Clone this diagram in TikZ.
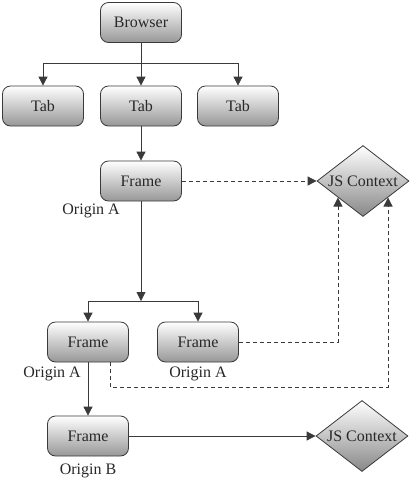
\documentclass[tikz,border=0pt]{standalone}
\usepackage{fontspec}
\setmainfont{Liberation Serif}
\usetikzlibrary{shapes.geometric,arrows.meta,calc}
\definecolor{linec}{HTML}{3A3A3A}
\definecolor{textc}{HTML}{282828}
\definecolor{shadec}{HTML}{979797}
\definecolor{midc}{HTML}{E2E2E2}
\begin{document}
\begin{tikzpicture}[x=1pt,y=-1pt,
  box/.style={draw=linec, line width=0.8pt, rounded corners=8pt, minimum width=81pt, minimum height=40pt,
    inner sep=0pt, top color=white, middle color=midc, bottom color=shadec, text=textc, font=\fontsize{16}{18}\selectfont},
  jsd/.style={diamond, draw=linec, line width=0.8pt, minimum width=92pt, minimum height=71pt, inner sep=0pt,
    top color=white, middle color=midc, bottom color=shadec!90!black, text=textc, font=\fontsize{16}{18}\selectfont},
  lab/.style={text=textc, font=\fontsize{16}{18}\selectfont, inner sep=0pt},
  arr/.style={draw=linec, line width=0.8pt, -{Triangle[length=9pt,width=9pt]}},
  dsh/.style={arr, dash pattern=on 4pt off 3pt}]
\useasboundingbox (0,0) rectangle (413,483);
\node[box] (browser) at (141,22.5) {Browser};
\node[box] (tab1) at (43,106) {Tab};
\node[box] (tab2) at (141,106) {Tab};
\node[box] (tab3) at (238,106) {Tab};
\node[box] (frame1) at (141,181) {Frame};
\node[box] (frame2) at (88,342) {Frame};
\node[box] (frame3) at (198,342) {Frame};
\node[box] (frame4) at (88,436) {Frame};
\node[jsd] (js1) at (363,181) {\makebox[0pt]{JS Context}};
\node[jsd] (js2) at (362,436) {\makebox[0pt]{JS Context}};
\node[lab] (o1) at ($(frame1.south west)+(-9,10)$) {Origin A};
\node[lab] (o2) at ($(frame2.south west)+(5,12)$) {Origin A};
\node[lab] (o3) at ($(frame3.south)+(0,12)$) {Origin A};
\node[lab] (o4) at ($(frame4.south)+(0,15)$) {Origin B};
\coordinate (split1) at (141,63);
\coordinate (split2) at (141,301);
\coordinate (jsA) at ($(js1.west)!0.46!(js1.south)$);
\coordinate (jsB) at ($(js1.south)!0.54!(js1.east)$);
% solid
\draw[arr] (browser.south) -- (tab2.north);
\draw[arr] (split1) -| (tab1.north);
\draw[arr] (split1) -| (tab3.north);
\draw[arr] (tab2.south) -- (frame1.north);
\draw[arr] (frame1.south) -- (split2);
\draw[arr] (split2) -| (frame2.north);
\draw[arr] (split2) -| (frame3.north);
\draw[arr] (frame2.south) -- (frame4.north);
\draw[arr] (frame4.east) -- (js2.west);
% dashed
\draw[dsh] (frame1.east) -- (js1.west);
\draw[dsh] (frame3.east) -| (jsA);
\draw[dsh] ($(frame2.south)+(22,0)$) -- ++(0,25) -| (jsB);
\end{tikzpicture}
\end{document}
